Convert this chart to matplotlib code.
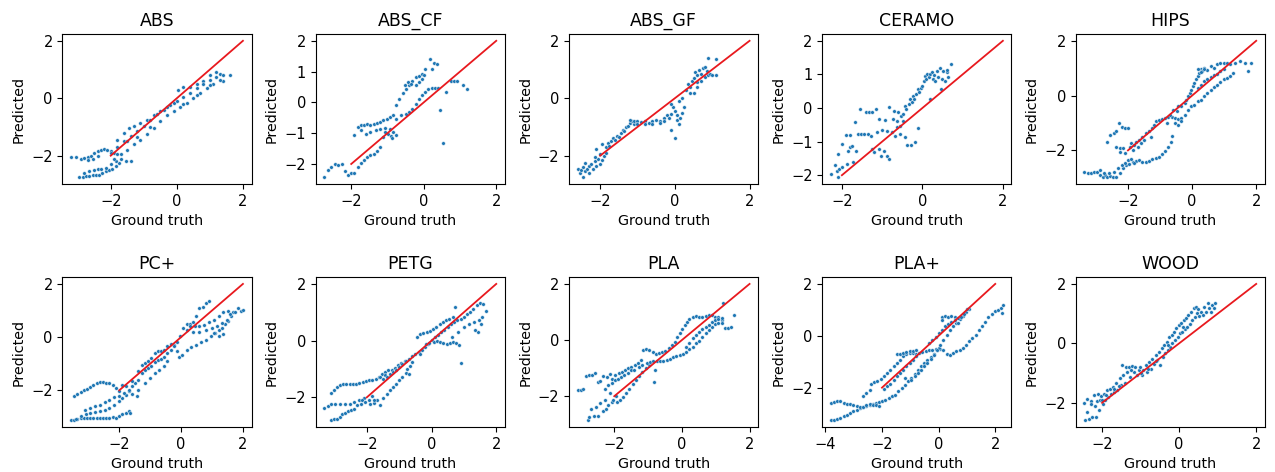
import matplotlib
matplotlib.use("Agg")
import matplotlib.pyplot as plt
from matplotlib.ticker import MultipleLocator

# materials, in panel order
materials = ["ABS", "ABS_CF", "ABS_GF", "CERAMO", "HIPS",
             "PC+", "PETG", "PLA", "PLA+", "WOOD"]
y_steps = [2, 1, 2, 1, 2, 2, 2, 2, 2, 2]

# (ground truth, predicted) pairs
abs_pts = [
    (-2.95, -2.75), (-2.85, -2.74), (-2.75, -2.72), (-2.65, -2.7), (-2.55, -2.68), (-2.45, -2.67),
    (-2.35, -2.66), (-2.25, -2.62), (-2.15, -2.55), (-2.05, -2.5), (-1.95, -2.45), (-1.85, -2.35),
    (-1.75, -2.25), (-2.8, -2.6), (-2.65, -2.55), (-2.5, -2.5), (-2.4, -2.45), (-2.3, -2.48),
    (-2.15, -2.42), (-2.0, -2.3), (-1.85, -2.2), (-1.7, -2.1), (-1.55, -2.2), (-1.4, -2.2),
    (-3.2, -2.05), (-3.05, -2.05), (-2.9, -2.1), (-2.8, -2.08), (-2.7, -2.05), (-2.6, -2.0),
    (-2.5, -1.92), (-2.4, -1.85), (-2.3, -1.8), (-2.2, -1.75), (-2.1, -1.8), (-2.0, -1.85),
    (-1.9, -1.9), (-1.8, -1.95), (-2.7, -2.15), (-2.55, -2.1), (-2.4, -2.0),
    (-1.8, -1.45), (-1.6, -1.2), (-1.45, -1.05), (-1.3, -0.95), (-1.1, -0.85), (-0.9, -0.75),
    (-0.7, -0.6), (-0.5, -0.45), (-0.3, -0.3), (-0.1, -0.15), (0.05, 0.3), (0.2, 0.4),
    (0.4, 0.4), (0.6, 0.5), (0.8, 0.6), (1.0, 0.8), (1.2, 0.9), (1.3, 0.85),
    (-2.0, -1.9), (-1.8, -1.7), (-1.6, -1.5), (-1.4, -1.3), (-1.2, -1.15), (-1.0, -0.95),
    (-0.8, -0.75), (-0.6, -0.55), (-0.4, -0.4), (-0.2, -0.25), (0.0, -0.1), (0.2, 0.05),
    (0.4, 0.2), (0.6, 0.35), (0.8, 0.5), (1.0, 0.65), (1.2, 0.75), (1.4, 0.8), (1.6, 0.8), (1.4, 0.6),
    (-1.9, -2.1), (-1.7, -1.95), (-1.5, -1.8), (-1.3, -1.6), (-1.1, -1.45), (-0.9, -1.25),
    (-0.7, -1.05), (-0.5, -0.8), (-0.3, -0.6), (-0.1, -0.45), (0.1, -0.3), (0.3, -0.15),
    (0.5, 0.0), (0.7, 0.2), (0.9, 0.35), (1.1, 0.5), (1.3, 0.65),
    (-1.5, -1.5), (-1.2, -1.35), (-0.8, -1.0), (0.2, -0.2), (0.6, 0.1), (1.0, 0.45),
]

abs_cf_pts = [
    (-2.74, -2.43), (-2.64, -2.2), (-2.55, -2.1), (-2.44, -2.0), (-2.36, -2.03), (-2.25, -2.0),
    (-2.18, -2.23), (-2.09, -2.35), (-2.0, -2.28), (-1.91, -2.28), (-1.82, -2.09), (-1.73, -1.98),
    (-1.64, -1.87), (-1.56, -1.77), (-1.47, -1.72), (-1.38, -1.66), (-1.29, -1.58), (-1.2, -1.44),
    (-1.11, -1.12), (-1.91, -1.06), (-1.82, -0.8), (-1.73, -0.74), (-1.64, -0.72), (-1.56, -0.69),
    (-1.47, -0.72), (-1.38, -0.69), (-1.29, -0.66), (-1.2, -0.64), (-1.11, -0.58), (-1.02, -0.53),
    (-0.93, -0.47), (-0.84, -0.42), (-1.73, -0.9), (-1.6, -1.01), (-1.47, -0.96), (-1.33, -0.9),
    (-1.2, -0.87), (-1.07, -0.83), (-1.07, -0.96), (-0.98, -1.04), (-0.9, -1.1), (-0.88, -1.16),
    (-0.76, -0.1), (-0.67, 0.12), (-0.58, 0.31), (-0.49, 0.44), (-0.4, 0.57), (-0.31, 0.71),
    (-0.22, 0.82), (-0.13, 0.87), (-0.04, 0.92), (0.04, 1.08), (0.18, 1.4), (0.27, 1.29),
    (0.36, 1.24), (0.22, 1.08), (-0.53, 0.55), (-0.44, 0.65), (-0.36, 0.6), (-0.22, 0.55),
    (-0.13, 0.65), (-0.04, 0.76), (0.0, 0.89),
    (-0.76, -0.53), (-0.64, -0.42), (-0.49, -0.37), (-0.4, -0.31), (-0.31, -0.2), (-0.22, -0.04),
    (-0.13, 0.12), (-0.04, 0.23), (0.04, 0.33), (0.13, 0.44), (0.22, 0.46), (0.31, 0.46), (0.4, 0.46),
    (0.62, 0.33), (0.76, 0.71), (0.84, 0.71), (0.93, 0.68), (1.07, 0.57), (1.2, 0.44),
    (0.44, -0.26), (0.53, -1.31), (-0.76, -1.06), (-0.85, -0.96), (-0.94, -0.85),
]

abs_gf_pts = [
    (-2.6, -2.45), (-2.55, -2.6), (-2.5, -2.5), (-2.45, -2.4), (-2.45, -2.75), (-2.4, -2.55),
    (-2.35, -2.45), (-2.3, -2.35), (-2.3, -2.6), (-2.25, -2.3), (-2.2, -2.45), (-2.15, -2.2),
    (-2.1, -2.35), (-2.05, -2.1), (-2.0, -2.3), (-2.0, -1.95), (-1.95, -2.15), (-1.9, -2.0),
    (-2.1, -1.75), (-1.95, -1.6), (-1.85, -1.9), (-2.15, -2.05), (-2.4, -2.25),
    (-1.85, -1.7), (-1.8, -1.55), (-1.75, -1.65), (-1.7, -1.5), (-1.65, -1.4), (-1.6, -1.45),
    (-1.55, -1.3), (-1.5, -1.35), (-1.45, -1.2), (-1.4, -1.1), (-1.35, -1.15), (-1.3, -1.0),
    (-1.25, -0.95), (-1.2, -0.85), (-1.15, -0.8), (-1.1, -0.9),
    (-1.2, -0.75), (-1.1, -0.8), (-1.0, -0.8), (-0.9, -0.82), (-0.8, -0.8), (-0.7, -0.85),
    (-0.6, -0.8), (-0.5, -0.75), (-0.4, -0.78), (-0.3, -0.7), (-0.2, -0.6), (-0.1, -0.55),
    (0.0, -0.45), (-1.0, -0.88), (-0.8, -0.9), (-0.6, -0.88), (-0.4, -0.85), (-0.3, -0.8),
    (-0.15, -0.7), (0.05, -0.6),
    (-0.1, -1.1), (0.0, -1.4), (0.1, -0.9), (0.05, -0.75), (0.15, -0.7), (0.2, -0.5),
    (0.25, -0.3), (-0.05, -0.3), (-0.1, -0.2), (0.1, -0.1), (0.2, 0.0),
    (0.3, 0.3), (0.35, 0.5), (0.4, 0.4), (0.45, 0.6), (0.5, 0.7), (0.5, 0.2), (0.55, 0.9),
    (0.6, 0.8), (0.6, 0.4), (0.65, 1.0), (0.7, 0.85), (0.7, 0.6), (0.75, 1.05), (0.8, 0.75),
    (0.85, 0.95), (0.9, 0.8), (0.9, 1.4), (0.95, 0.85), (1.0, 0.8), (1.1, 1.35), (1.1, 0.8),
    (0.8, 1.1), (0.4, 0.2), (0.6, 0.55),
]

ceramo_pts = [
    (-2.27, -1.96), (-2.18, -1.71), (-2.13, -1.86), (-2.09, -2.06), (-2.07, -1.81), (-2.0, -1.76),
    (-1.99, -1.07), (-2.09, -1.37), (-1.88, -1.66), (-1.9, -0.8), (-1.8, -0.8), (-1.84, -1.27),
    (-1.8, -1.17), (-1.74, -1.12), (-1.72, -1.62), (-1.64, -1.27), (-1.67, -0.41), (-1.61, -0.78),
    (-1.54, -0.03), (-1.53, -0.78), (-1.45, -0.78), (-1.41, -0.13), (-1.35, -0.78), (-1.33, -0.13),
    (-1.27, -0.83), (-1.25, -0.11), (-1.25, -1.22), (-1.2, -1.32), (-1.16, -0.03), (-1.12, -0.72),
    (-1.08, -0.33), (-1.08, -1.22), (-1.04, -1.42), (-1.0, -0.64), (-0.96, -1.27), (-0.92, -0.35),
    (-0.88, -0.67), (-0.87, -1.42), (-0.82, -1.52), (-0.82, 0.02), (-0.76, -0.72), (-0.72, -0.33),
    (-0.71, -0.08), (-0.68, -0.82), (-0.64, -0.57), (-0.63, -0.38), (-0.6, -0.13), (-0.56, -0.77),
    (-0.55, -0.53), (-0.52, -0.23), (-0.48, -0.18), (-0.48, -0.38), (-0.44, 0.07), (-0.44, -0.87),
    (-0.4, -0.03), (-0.39, -1.09), (-0.34, 0.12), (-0.32, 0.27), (-0.28, -1.11), (-0.26, 0.17),
    (-0.24, 0.37), (-0.2, 0.27), (-0.18, -1.02), (-0.16, 0.42), (-0.12, 0.56), (-0.1, -0.6),
    (-0.08, 0.47), (-0.04, 0.61), (-0.02, 0.66), (0.04, 0.81), (0.06, 0.94), (0.1, 0.86),
    (0.12, 1.01), (0.16, 0.91), (0.18, 0.27), (0.2, 1.01), (0.24, 1.08), (0.26, 0.86),
    (0.28, 0.98), (0.32, 0.81), (0.36, 1.11), (0.39, 0.91), (0.44, 1.18), (0.47, 0.58),
    (0.48, 0.86), (0.52, 1.11), (0.55, 0.81), (0.6, 1.06), (0.64, 0.91), (0.72, 1.31), (0.62, 1.14),
]

hips_pts = [
    (-3.36, -2.78), (-3.26, -2.84), (-3.16, -2.82), (-3.06, -2.78), (-2.96, -2.78), (-2.86, -2.9),
    (-2.78, -2.96), (-2.71, -2.9), (-2.64, -2.98), (-2.56, -2.94), (-2.48, -2.98), (-2.36, -2.96),
    (-2.26, -2.84), (-2.16, -2.66), (-2.06, -2.54), (-1.96, -2.48), (-1.85, -2.41), (-1.75, -2.39),
    (-1.65, -2.35), (-1.55, -2.41), (-1.45, -2.41), (-1.34, -2.39), (-1.24, -2.32), (-1.14, -2.26),
    (-1.04, -2.23), (-0.94, -2.13), (-0.84, -2.04), (-0.74, -1.86), (-0.67, -1.68),
    (-2.86, -2.72), (-2.76, -2.84), (-2.6, -2.81), (-2.45, -2.78), (-2.3, -2.66), (-2.2, -2.54),
    (-2.1, -2.45), (-2.0, -2.35), (-1.89, -2.32), (-1.8, -2.47),
    (-2.64, -1.68), (-2.56, -1.43), (-2.45, -1.37), (-2.36, -1.31), (-2.27, -1.0), (-2.2, -1.13),
    (-2.1, -1.19), (-2.0, -1.19),
    (-2.36, -1.86), (-2.26, -1.92), (-2.26, -2.07), (-2.16, -1.92), (-2.1, -2.08), (-1.95, -1.86),
    (-1.89, -1.74), (-1.85, -1.98), (-1.8, -1.8), (-1.75, -1.68), (-1.7, -1.86), (-1.65, -1.62),
    (-1.6, -1.74), (-1.55, -1.5), (-1.49, -1.62), (-1.44, -1.37), (-1.34, -1.31), (-1.29, -1.5),
    (-1.24, -1.19), (-1.2, -1.06), (-1.14, -0.94), (-1.04, -0.88), (-0.94, -0.86), (-0.84, -0.82),
    (-0.74, -0.78), (-0.64, -0.78), (-0.54, -0.82), (-0.43, -0.86), (-0.33, -0.82), (-0.79, -1.0),
    (-0.69, -0.7), (-0.59, -0.51), (-0.48, -0.57), (-0.43, -0.39), (-0.33, -0.39), (-0.23, -0.27),
    (-0.18, -0.15), (-0.13, -0.02), (-0.08, 0.1), (-0.03, 0.22), (0.02, 0.34), (0.07, 0.47),
    (0.12, 0.59), (0.17, 0.71), (0.22, 0.81), (0.27, 0.96), (0.32, 0.9), (0.37, 1.02),
    (0.47, 0.95), (0.58, 1.08), (0.68, 1.02), (0.78, 1.14), (0.88, 1.2), (0.98, 1.2),
    (1.08, 1.2), (1.18, 1.14), (1.33, 1.2), (1.49, 1.26), (1.64, 1.2), (1.74, 0.9), (1.84, 1.18),
    (-0.54, -1.0), (-0.43, -1.06), (-0.33, -0.94), (-0.23, -0.7), (-0.13, -0.51), (-0.03, -0.39),
    (0.07, -0.33), (0.17, -0.21), (0.27, -0.15), (0.37, -0.02), (0.47, 0.1), (0.58, 0.22),
    (0.68, 0.32), (0.78, 0.4), (0.88, 0.49), (0.98, 0.59), (1.08, 0.65), (1.18, 0.73),
    (1.28, 0.81), (-0.62, -1.49),
    (0.17, 0.28), (0.27, 0.4), (0.37, 0.53), (0.47, 0.6), (0.58, 0.68), (0.68, 0.77),
    (0.78, 0.8), (0.88, 0.9), (0.98, 0.96), (0.17, 0.96), (0.27, 0.87), (0.37, 0.96),
]

pc_pts = [
    (-3.56, -3.13), (-3.46, -3.1), (-3.36, -3.08), (-3.25, -3.04), (-3.15, -3.04), (-3.04, -3.04),
    (-2.94, -3.04), (-2.84, -3.04), (-2.73, -3.04), (-2.63, -3.04), (-2.52, -3.05), (-2.42, -3.05),
    (-2.32, -3.05), (-2.21, -3.0), (-2.1, -3.04), (-2.0, -2.98), (-1.9, -2.91), (-1.79, -2.85),
    (-1.69, -2.79), (-1.64, -2.85),
    (-3.41, -3.08), (-3.25, -2.98), (-3.09, -2.91), (-2.94, -2.85), (-2.78, -2.83), (-2.63, -2.79),
    (-2.47, -2.73), (-2.32, -2.66), (-2.16, -2.54), (-2.0, -2.41), (-1.9, -2.29), (-1.79, -2.16),
    (-1.69, -2.04),
    (-3.1, -2.73), (-2.94, -2.66), (-2.78, -2.6), (-2.63, -2.54), (-2.47, -2.45), (-2.32, -2.35),
    (-2.16, -2.26), (-2.0, -2.2), (-1.84, -2.1), (-1.69, -1.98), (-1.59, -1.85), (-1.48, -1.73),
    (-1.38, -1.6), (-1.43, -2.2),
    (-3.46, -2.2), (-3.36, -2.13), (-3.25, -2.08), (-3.15, -2.0), (-3.04, -1.95), (-2.94, -1.88),
    (-2.84, -1.79), (-2.73, -1.73), (-2.63, -1.7), (-2.52, -1.7), (-2.42, -1.73), (-2.32, -1.73),
    (-2.21, -1.79), (-2.1, -1.91), (-2.0, -2.04), (-1.92, -1.79),
    (-1.79, -1.85), (-1.59, -1.66), (-1.38, -1.29), (-1.28, -1.04), (-1.17, -0.98), (-1.07, -0.91),
    (-0.97, -0.79), (-0.86, -0.6), (-0.76, -0.54), (-0.65, -0.54), (-0.55, -0.48), (-0.45, -0.35),
    (-0.34, -0.25), (-0.24, -0.29), (-0.14, -0.2), (-0.03, 0.03), (0.07, 0.34), (0.18, 0.5),
    (0.28, 0.5), (0.38, 0.55), (0.49, 0.8), (0.59, 1.09), (0.7, 1.15), (0.8, 1.28), (0.9, 1.34),
    (-1.28, -1.35), (-1.17, -1.23), (-1.07, -1.16), (-0.97, -1.1), (-0.86, -0.95), (-0.76, -0.85),
    (-0.65, -0.83), (-0.55, -0.73), (-0.45, -0.6), (-0.34, -0.48), (-0.24, -0.35), (-0.14, -0.54),
    (-0.08, -0.73), (0.02, -0.66), (0.18, -0.48), (0.33, -0.38), (0.49, -0.29), (0.64, -0.2),
    (0.8, -0.1), (0.96, 0.03), (1.11, 0.15), (1.22, 0.25), (1.32, 0.34), (1.42, 0.5),
    (1.53, 0.59), (1.63, 0.78), (1.68, 0.96), (1.84, 1.09), (1.94, 1.0), (1.99, 1.03),
    (-1.59, -2.13), (-1.38, -1.98), (-1.17, -1.73), (-1.02, -1.54), (-0.86, -1.35), (-0.71, -1.23),
    (-0.55, -1.1), (-0.45, -0.91),
    (0.28, 0.43), (0.44, 0.4), (0.59, 0.4), (0.75, 0.46), (0.9, 0.55), (1.06, 0.65),
    (1.22, 0.78), (1.37, 0.93), (1.53, 1.0), (1.58, 0.88), (1.74, 0.96),
    (0.18, 0.28), (0.38, 0.21), (0.59, 0.21), (0.8, 0.28), (1.01, 0.34), (1.16, 0.43),
    (1.32, 0.53), (1.48, 0.65), (1.06, 0.15), (1.22, 0.03), (1.37, 0.13),
]

petg_pts = [
    (-3.12, -1.83), (-3.02, -1.75), (-2.93, -1.64), (-2.83, -1.58), (-2.73, -1.52), (-2.63, -1.52),
    (-2.53, -1.54), (-2.43, -1.54), (-2.33, -1.52), (-2.23, -1.49), (-2.13, -1.46), (-2.03, -1.42),
    (-1.93, -1.4), (-1.83, -1.38), (-1.73, -1.34), (-1.63, -1.28), (-1.53, -1.16), (-1.43, -1.11),
    (-1.33, -1.05), (-1.23, -1.02), (-1.13, -0.95), (-1.03, -0.87), (-0.93, -0.79), (-0.83, -0.72),
    (-3.31, -2.38), (-3.21, -2.32), (-3.12, -2.25), (-2.97, -2.22), (-2.83, -2.22), (-2.68, -2.25),
    (-2.53, -2.22), (-2.38, -2.16), (-2.23, -2.08), (-2.08, -2.04),
    (-3.12, -2.81), (-3.02, -2.75), (-2.93, -2.75), (-2.83, -2.69), (-2.76, -2.58), (-2.68, -2.55),
    (-2.58, -2.48), (-2.49, -2.45), (-2.39, -2.4), (-2.29, -2.28), (-2.19, -2.22), (-2.14, -2.1),
    (-2.04, -2.16), (-1.94, -2.1), (-1.89, -2.22), (-1.79, -2.2), (-1.69, -2.1), (-1.59, -2.28),
    (-1.49, -2.04), (-1.39, -1.87), (-1.29, -1.75), (-1.19, -1.64), (-1.09, -1.52), (-0.99, -1.4),
    (-0.9, -1.28), (-0.8, -1.14), (-0.75, -0.99), (-1.79, -2.1), (-1.84, -1.96),
    (-1.59, -1.28), (-1.49, -1.34), (-1.44, -1.22), (-1.39, -1.28), (-1.29, -1.16), (-1.19, -1.11),
    (-1.09, -1.05), (-0.99, -0.93), (-0.9, -0.81), (-0.8, -0.72), (-0.7, -0.64), (-0.6, -0.55),
    (-0.5, -0.46), (-0.4, -0.4), (-0.35, -0.48), (-0.3, -0.34), (-0.2, -0.22), (-0.1, -0.11),
    (0.0, 0.01), (0.1, 0.13), (0.2, 0.19), (0.3, 0.31), (0.4, 0.39), (0.5, 0.48), (0.6, 0.58),
    (0.7, 0.66), (0.8, 0.72), (0.9, 0.78), (1.0, 0.84), (1.1, 0.93), (1.19, 1.01), (1.29, 1.12),
    (1.39, 1.24), (1.49, 1.32), (1.59, 1.29), (1.69, 1.06), (1.54, 0.6), (1.44, 0.31), (1.34, 0.36),
    (-0.45, 0.13), (-0.35, 0.25), (-0.25, 0.27), (-0.15, 0.31), (-0.05, 0.34), (0.05, 0.42),
    (0.15, 0.48), (0.25, 0.58), (0.35, 0.66), (0.45, 0.72), (0.55, 0.78), (0.65, 0.84), (0.72, 1.19),
    (-0.18, -0.13), (-0.08, -0.1), (0.07, -0.05), (0.17, -0.01), (0.27, -0.05), (0.37, -0.08),
    (0.47, -0.11), (0.57, -0.08), (0.67, -0.05), (0.77, -0.08), (0.84, -0.16), (0.9, -0.79),
    (0.62, 0.13), (0.82, 0.31), (1.0, 0.48), (1.16, 0.58), (1.31, 0.66), (1.46, 0.72), (1.56, 0.84),
    (-0.7, -1.16), (-0.65, -0.9), (-0.6, -0.75),
]

pla_pts = [
    (-3.08, -1.79), (-2.99, -1.79), (-2.92, -1.76), (-2.84, -1.29), (-2.75, -1.23), (-2.65, -1.23),
    (-2.56, -1.19), (-2.49, -1.49), (-2.42, -1.47), (-2.32, -1.29), (-2.22, -1.31), (-2.12, -1.21),
    (-2.07, -1.37), (-1.98, -1.25), (-1.87, -1.17), (-1.77, -1.13), (-1.68, -1.07), (-1.58, -1.01),
    (-1.49, -0.95), (-1.39, -0.89), (-1.3, -0.81), (-1.2, -0.71), (-1.15, -0.36), (-1.06, -0.33),
    (-0.96, -0.36), (-0.86, -0.42), (-0.77, -0.48), (-0.68, -0.45), (-0.58, -0.42), (-0.49, -0.38),
    (-0.39, -0.3), (-0.3, -0.18),
    (-2.77, -2.86), (-2.75, -2.74), (-2.7, -2.44), (-2.6, -2.71), (-2.53, -2.38), (-2.48, -2.71),
    (-2.41, -2.26), (-2.34, -2.52), (-2.27, -2.12), (-2.25, -2.44), (-2.17, -2.32), (-2.12, -1.9),
    (-2.07, -2.2), (-2.03, -2.14), (-1.96, -2.0), (-1.93, -2.2), (-1.84, -2.14), (-1.74, -2.02),
    (-1.65, -1.9), (-1.55, -1.73), (-1.45, -1.55), (-1.36, -1.43), (-1.26, -1.29), (-1.17, -1.13),
    (-1.07, -1.01), (-0.98, -0.89), (-0.83, -1.49), (-0.79, -1.07),
    (-2.27, -1.73), (-2.17, -1.61), (-2.07, -1.52), (-1.98, -1.43), (-1.89, -1.37), (-1.79, -1.31),
    (-1.7, -1.25), (-1.6, -1.19), (-1.5, -1.07), (-1.41, -1.05), (-1.26, -0.95), (-1.17, -0.89),
    (-1.03, -0.81), (-0.93, -0.77), (-0.84, -0.75), (-0.74, -0.74), (-0.64, -0.74), (-0.55, -0.74),
    (-0.45, -0.71), (-0.35, -0.69), (-0.26, -0.62), (-0.16, -0.57), (-0.07, -0.54), (0.03, -0.48),
    (0.12, -0.42), (0.22, -0.33), (0.32, -0.24), (0.41, -0.12), (0.51, -0.02), (0.6, 0.12),
    (0.7, 0.24), (0.79, 0.36), (0.89, 0.48), (0.99, 0.57), (1.08, 0.62), (1.18, 0.71),
    (1.27, 0.42), (1.37, 0.42), (1.46, 0.48), (1.54, 0.89),
    (-0.21, -0.06), (-0.14, 0.12), (-0.07, 0.26), (0.01, 0.38), (0.08, 0.54), (0.14, 0.65),
    (0.22, 0.74), (0.32, 0.81), (0.41, 0.86), (0.51, 0.83), (0.6, 0.83), (0.7, 0.86),
    (0.79, 0.89), (0.89, 0.89), (0.99, 0.83), (1.08, 0.83), (1.18, 0.77), (1.2, 1.31),
    (0.12, -0.24), (0.22, -0.12), (0.32, 0.06), (0.41, 0.18), (0.51, 0.3), (0.6, 0.38),
    (0.7, 0.48), (0.79, 0.54), (0.89, 0.65), (0.99, 0.71), (1.08, 0.74), (1.18, 0.62),
]

pla_plus_pts = [
    (-3.8, -3.26), (-3.69, -3.23), (-3.58, -3.21), (-3.47, -3.17), (-3.35, -3.1), (-3.24, -3.04),
    (-3.13, -2.97), (-3.01, -2.91), (-2.9, -2.85), (-2.78, -2.78), (-2.67, -2.74), (-2.56, -2.69),
    (-2.44, -2.65), (-2.33, -2.62), (-2.22, -2.59), (-2.1, -2.56), (-1.99, -2.53), (-1.88, -2.46),
    (-1.76, -2.4), (-1.65, -2.33), (-1.53, -2.27), (-1.42, -2.14), (-1.31, -2.01), (-1.19, -1.88),
    (-1.08, -1.76), (-0.97, -1.63), (-0.85, -1.46), (-0.74, -1.31), (-0.63, -1.18), (-0.51, -1.05),
    (-0.4, -0.92), (-0.28, -0.82), (-0.17, -0.69), (-0.06, -0.56), (0.06, -0.51), (0.17, -0.54),
    (0.28, -0.69), (0.4, -0.73), (0.51, -0.67), (0.63, -0.6), (0.74, -0.54), (0.85, -0.47),
    (0.97, -0.35), (1.08, -0.22), (1.19, -0.09), (1.31, 0.04), (1.42, 0.21), (1.53, 0.38),
    (1.65, 0.55), (1.76, 0.74), (1.88, 0.85), (1.99, 0.94), (2.1, 1.0), (2.22, 1.06),
    (2.27, 1.19), (2.25, 0.87),
    (-3.8, -2.59), (-3.69, -2.55), (-3.58, -2.53), (-3.47, -2.53), (-3.35, -2.59), (-3.24, -2.62),
    (-3.13, -2.62), (-3.01, -2.65), (-2.9, -2.72), (-2.78, -2.74), (-2.67, -2.76), (-2.56, -2.65),
    (-2.44, -2.62), (-2.33, -2.65), (-2.22, -2.65), (-2.1, -2.69),
    (-2.67, -2.33), (-2.56, -2.21), (-2.44, -2.1), (-2.39, -1.87), (-2.27, -1.8), (-2.16, -1.74),
    (-2.05, -1.68), (-1.93, -1.55), (-1.82, -1.42), (-1.71, -1.3), (-1.59, -1.18), (-1.48, -1.05),
    (-1.36, -0.92), (-1.25, -0.79), (-1.14, -0.69), (-1.02, -0.67), (-0.91, -0.67), (-0.8, -0.69),
    (-0.68, -0.67), (-0.57, -0.64), (-0.45, -0.6), (-0.34, -0.56), (-0.23, -0.54), (-0.11, -0.51),
    (0.0, -0.47),
    (-1.48, -0.69), (-1.36, -0.69), (-1.25, -0.67), (-1.14, -0.64), (-1.02, -0.6), (-0.91, -0.58),
    (-0.8, -0.54),
    (-1.93, -2.05), (-1.82, -1.95), (-1.71, -1.85), (-1.59, -1.72), (-1.48, -1.56), (-1.36, -1.44),
    (-1.25, -1.31), (-1.14, -1.18), (-1.02, -1.05), (-0.91, -0.92), (-0.8, -0.79),
    (-1.19, -1.63), (-0.97, -1.69), (-0.85, -1.56), (-0.74, -1.44), (-0.63, -1.31), (-0.51, -1.18),
    (-0.4, -1.03), (-0.28, -0.9), (-0.17, -0.73), (-0.06, -0.54), (0.06, -0.35), (0.17, -0.15),
    (0.28, 0.04), (0.4, 0.21), (0.51, 0.36), (0.63, 0.51), (0.74, 0.64), (0.85, 0.77),
    (0.97, 0.9), (1.08, 1.03),
    (0.11, 0.74), (0.23, 0.77), (0.34, 0.74), (0.45, 0.77), (0.57, 0.74), (0.68, 0.68),
    (0.8, 0.74), (0.91, 0.85), (1.02, 1.03), (0.11, 0.62),
    (-0.34, -0.28), (-0.23, -0.15), (-0.11, -0.03), (0.0, 0.1), (0.11, 0.23), (0.23, 0.36),
    (0.34, 0.46), (0.45, 0.55), (0.57, 0.62), (0.68, 0.51),
]

wood_pts = [
    (-2.46, -2.0), (-2.45, -2.59), (-2.38, -1.86), (-2.33, -2.53), (-2.29, -1.94), (-2.25, -2.48),
    (-2.21, -1.73), (-2.19, -2.11), (-2.17, -2.48), (-2.14, -1.94), (-2.11, -1.71), (-2.08, -2.25),
    (-2.06, -1.89), (-2.03, -1.78), (-1.98, -2.03), (-1.95, -1.69), (-1.92, -1.89), (-1.88, -1.58),
    (-1.84, -1.8), (-1.79, -1.52), (-1.77, -1.71), (-1.71, -1.46), (-1.68, -1.63), (-1.64, -1.35),
    (-1.6, -1.58), (-1.54, -1.18), (-1.51, -1.41), (-1.47, -0.73), (-1.45, -1.07), (-1.41, -1.35),
    (-1.39, -0.79), (-1.35, -0.96), (-1.31, -0.79), (-1.28, -1.13), (-1.22, -0.77), (-1.18, -0.96),
    (-1.14, -0.79), (-1.1, -1.07), (-1.05, -0.9), (-1.01, -0.79), (-0.97, -1.07), (-0.93, -0.9),
    (-0.87, -0.73), (-0.83, -0.96), (-0.78, -0.62), (-0.74, -0.85), (-0.7, -0.51), (-0.66, -0.68),
    (-0.61, -0.39), (-0.57, -0.56), (-0.53, -0.28), (-0.49, -0.73), (-0.45, -0.17), (-0.43, -0.45),
    (-0.38, -0.06), (-0.36, -0.34), (-0.32, 0.06), (-0.29, -0.23), (-0.26, 0.23), (-0.24, -0.11),
    (-0.19, 0.28), (-0.18, 0.02), (-0.13, 0.39), (-0.11, 0.11), (-0.07, 0.51), (-0.04, 0.23),
    (-0.01, 0.62), (0.02, 0.34), (0.06, 0.7), (0.08, 0.39), (0.13, 0.79), (0.14, 0.47),
    (0.19, 0.85), (0.21, 0.56), (0.24, 0.96), (0.27, 0.65), (0.31, 1.07), (0.34, 0.79),
    (0.38, 1.18), (0.4, 0.9), (0.44, 1.24), (0.46, 1.01), (0.5, 1.15), (0.52, 0.92),
    (0.56, 1.07), (0.61, 0.96), (0.65, 1.24), (0.69, 1.07), (0.74, 1.35), (0.77, 1.18),
    (0.82, 1.04), (0.86, 1.29), (0.9, 1.18), (0.93, 1.35),
    (-2.4, -2.3), (-2.3, -2.05), (-2.0, -1.9), (-1.9, -1.75), (-1.7, -1.55), (-1.55, -1.45),
    (-1.25, -0.9), (-1.0, -1.0), (-0.8, -0.85), (-0.6, -0.6), (-0.3, -0.05), (0.1, 0.55),
]

panels = [abs_pts, abs_cf_pts, abs_gf_pts, ceramo_pts, hips_pts,
          pc_pts, petg_pts, pla_pts, pla_plus_pts, wood_pts]

# identity reference line
ref_x = [-2, 2]
ref_y = [-2, 2]

fig, axes = plt.subplots(2, 5, figsize=(12.75, 4.72), dpi=100)
fig.subplots_adjust(left=0.049, right=0.992, top=0.928, bottom=0.095,
                    wspace=0.34, hspace=0.62)

for ax, name, pts, ystep in zip(axes.flat, materials, panels, y_steps):
    xs = [p[0] for p in pts]
    ys = [p[1] for p in pts]
    ax.scatter(xs, ys, s=7, color="#1f77b4", edgecolors="white", linewidths=0.3)
    ax.plot(ref_x, ref_y, color="#e8191e", lw=1.3)
    ax.set_title(name, fontsize=12.5)
    ax.set_xlabel("Ground truth", fontsize=10.3)
    ax.set_ylabel("Predicted", fontsize=10.3)
    ax.xaxis.set_major_locator(MultipleLocator(2))
    ax.yaxis.set_major_locator(MultipleLocator(ystep))
    ax.tick_params(labelsize=10.5)

fig.savefig("out.png", dpi=100)
